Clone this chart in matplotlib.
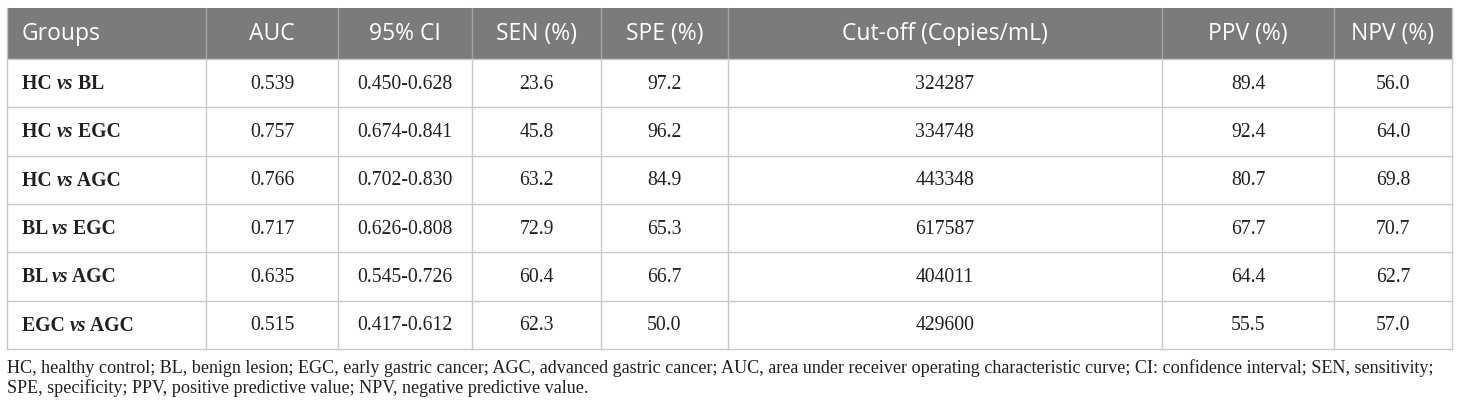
import matplotlib
matplotlib.use("Agg")
import matplotlib.pyplot as plt
from matplotlib.patches import Rectangle

# table content
headers = ["Groups", "AUC", "95% CI", "SEN (%)", "SPE (%)",
           "Cut-off (Copies/mL)", "PPV (%)", "NPV (%)"]
group_a = ["HC", "HC", "HC", "BL", "BL", "EGC"]
group_b = ["BL", "EGC", "AGC", "EGC", "AGC", "AGC"]
auc = ["0.539", "0.757", "0.766", "0.717", "0.635", "0.515"]
ci95 = ["0.450-0.628", "0.674-0.841", "0.702-0.830", "0.626-0.808",
        "0.545-0.726", "0.417-0.612"]
sen = ["23.6", "45.8", "63.2", "72.9", "60.4", "62.3"]
spe = ["97.2", "96.2", "84.9", "65.3", "66.7", "50.0"]
cutoff = ["324287", "334748", "443348", "617587", "404011", "429600"]
ppv = ["89.4", "92.4", "80.7", "67.7", "64.4", "55.5"]
npv = ["56.0", "64.0", "69.8", "70.7", "62.7", "57.0"]
footnote = [
    "HC, healthy control; BL, benign lesion; EGC, early gastric cancer; AGC, advanced gastric cancer; "
    "AUC, area under receiver operating characteristic curve; CI: confidence interval; SEN, sensitivity;",
    "SPE, specificity; PPV, positive predictive value; NPV, negative predictive value.",
]

W, H = 1460, 411
col_x = [7, 206, 338, 472, 601, 728, 1162, 1334, 1452]
head_top, head_bot = 8, 59
row_h = 48.33

HEAD_BG = "#7b7b7b"
GRID = "#c9c9c9"
TXT = "#231f20"
SERIF = ["Liberation Serif", "DejaVu Serif"]
SANS = ["Open Sans", "DejaVu Sans"]

fig = plt.figure(figsize=(W / 100, H / 100), dpi=100)
ax = fig.add_axes([0, 0, 1, 1])
ax.set_xlim(0, W)
ax.set_ylim(H, 0)
ax.axis("off")

# header band
ax.add_patch(Rectangle((col_x[0], head_top), col_x[-1] - col_x[0], head_bot - head_top,
                       facecolor=HEAD_BG, edgecolor="none"))
hy = (head_top + head_bot) / 2
for i, h in enumerate(headers):
    if i == 0:
        ax.text(col_x[0] + 15, hy, h, color="white", fontsize=16.5, family=SANS,
                ha="left", va="center")
    else:
        ax.text((col_x[i] + col_x[i + 1]) / 2, hy, h, color="white", fontsize=16.5,
                family=SANS, ha="center", va="center")
for x in col_x[1:-1]:
    ax.plot([x, x], [head_top, head_bot], color="#a3a3a3", lw=1)

# body
n = len(group_a)
bottom = head_bot + n * row_h
for k in range(n + 1):
    y = head_bot + k * row_h
    ax.plot([col_x[0], col_x[-1]], [y, y], color=GRID, lw=1)
for x in col_x:
    ax.plot([x, x], [head_bot, bottom], color=GRID, lw=1)
ax.plot([col_x[0], col_x[0]], [head_top, head_bot], color=GRID, lw=1)
ax.plot([col_x[-1], col_x[-1]], [head_top, head_bot], color=GRID, lw=1)

fig.canvas.draw()
rend = fig.canvas.get_renderer()
inv = ax.transData.inverted()

cols = [auc, ci95, sen, spe, cutoff, ppv, npv]
for r in range(n):
    cy = head_bot + (r + 0.5) * row_h + 1
    # first column: bold, "vs" in bold italic
    x = col_x[0] + 15
    for piece, style in [(group_a[r] + " ", "normal"), ("vs", "italic"), (" " + group_b[r], "normal")]:
        t = ax.text(x, cy, piece, fontsize=14.2, family=SERIF, weight="bold", style=style,
                    color=TXT, ha="left", va="center")
        bb = t.get_window_extent(rend)
        x = inv.transform((bb.x1, bb.y0))[0]
    for c, vals in enumerate(cols):
        ax.text((col_x[c + 1] + col_x[c + 2]) / 2, cy, vals[r], fontsize=14.2, family=SERIF,
                color=TXT, ha="center", va="center")

# footnote - sized so the first line spans the table width
probe = ax.text(0, 0, footnote[0], fontsize=14, family=SERIF)
fw = probe.get_window_extent(rend).width
probe.remove()
fsize = 14 * (1448 - col_x[0]) / fw
for i, line in enumerate(footnote):
    ax.text(col_x[0], 368 + i * 20, line, fontsize=fsize, family=SERIF, color=TXT,
            ha="left", va="center")

fig.savefig("out.png", dpi=100)
